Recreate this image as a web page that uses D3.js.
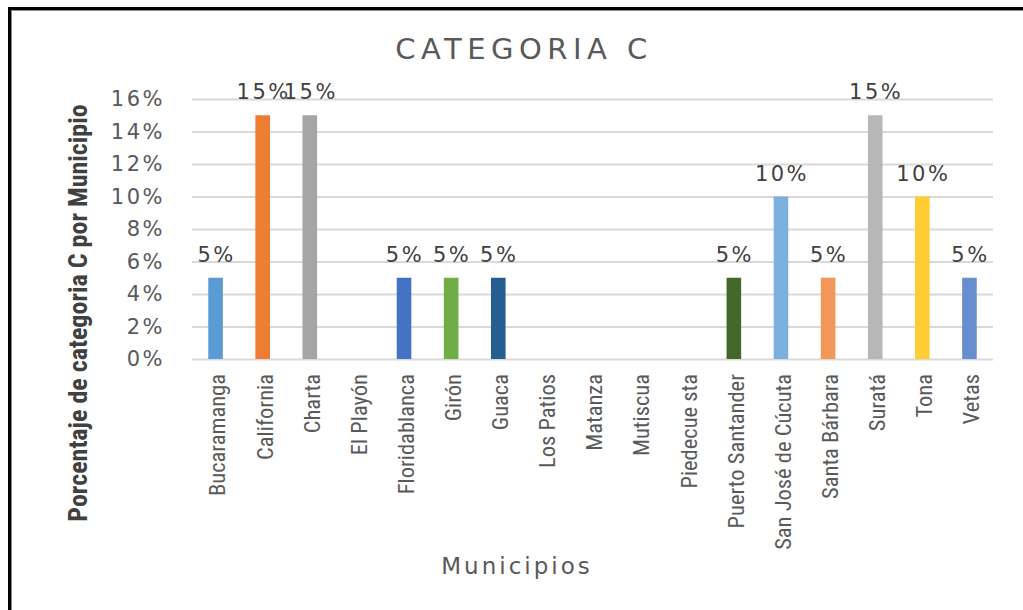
<!DOCTYPE html>
<html>
<head>
<meta charset="utf-8">
<script src="https://cdn.jsdelivr.net/npm/d3@7"></script>
<style>
  body { margin: 0; background: #fff; }
  svg { display: block; }
</style>
</head>
<body>
<div id="chart"></div>
<script>
// Chart data
const municipios = ["Bucaramanga", "California", "Charta", "El Playón", "Floridablanca", "Girón", "Guaca",
  "Los Patios", "Matanza", "Mutiscua", "Piedecue sta", "Puerto Santander", "San José de Cúcuta",
  "Santa Bárbara", "Suratá", "Tona", "Vetas"];
const porcentajes = [0.05, 0.15, 0.15, 0, 0.05, 0.05, 0.05, 0, 0, 0, 0, 0.05, 0.10, 0.05, 0.15, 0.10, 0.05];
const barColors = ["#5b9bd5", "#ed7d31", "#a5a5a5", "#ffc000", "#4472c4", "#70ad47", "#255e91",
  "#9e480e", "#636363", "#997300", "#264478", "#43682b", "#7cafdd", "#f1975a", "#b7b7b7", "#ffcd33", "#698ed0"];
const yTicks = [0, 0.02, 0.04, 0.06, 0.08, 0.10, 0.12, 0.14, 0.16];

const W = 1023, H = 610;
const plotLeft = 192, plotRight = 993, plotTop = 99, plotBottom = 359;

const svg = d3.select("#chart").append("svg")
  .attr("width", W)
  .attr("height", H);

// frame (only top and left edges fall inside the picture)
svg.append("rect")
  .attr("x", 9.5).attr("y", 8.5)
  .attr("width", 1200).attr("height", 800)
  .attr("fill", "none").attr("stroke", "#000").attr("stroke-width", 3);
svg.append("rect")
  .attr("x", 11.5).attr("y", 10.5)
  .attr("width", 1200).attr("height", 800)
  .attr("fill", "none").attr("stroke", "#8c8c8c").attr("stroke-width", 1);

const x = d3.scaleBand()
  .domain(municipios)
  .range([plotLeft, plotRight])
  .paddingInner(0.69)
  .paddingOuter(0.345);

const y = d3.scaleLinear()
  .domain([0, 0.16])
  .range([plotBottom, plotTop]);

// y axis with gridlines
const yAxis = svg.append("g")
  .attr("transform", "translate(" + plotLeft + ",0)")
  .call(d3.axisLeft(y).tickValues(yTicks).tickSize(-(plotRight - plotLeft)).tickFormat(d3.format(".0%")));
yAxis.select(".domain").remove();
yAxis.selectAll("line").attr("stroke", "#d9d9d9").attr("stroke-width", 2);
yAxis.selectAll("text")
  .attr("x", -27)
  .attr("fill", "#595959")
  .style("font-family", "DejaVu Sans, sans-serif")
  .style("font-size", "21px")
  .style("letter-spacing", "2.5px");

// bars
svg.append("g")
  .selectAll("rect")
  .data(municipios)
  .enter()
  .append("rect")
  .attr("x", d => x(d))
  .attr("y", (d, i) => y(porcentajes[i]))
  .attr("width", x.bandwidth())
  .attr("height", (d, i) => plotBottom - y(porcentajes[i]))
  .attr("fill", (d, i) => barColors[i]);

// value labels
svg.append("g")
  .selectAll("text")
  .data(municipios.filter((d, i) => porcentajes[i] > 0))
  .enter()
  .append("text")
  .attr("x", d => x(d) + x.bandwidth() / 2 + 1)
  .attr("y", d => y(porcentajes[municipios.indexOf(d)]) - 16)
  .attr("text-anchor", "middle")
  .attr("fill", "#404040")
  .style("font-family", "DejaVu Sans, sans-serif")
  .style("font-size", "21px")
  .style("letter-spacing", "2.5px")
  .text(d => d3.format(".0%")(porcentajes[municipios.indexOf(d)]));

// x axis labels
const xAxis = svg.append("g")
  .attr("transform", "translate(0," + plotBottom + ")")
  .call(d3.axisBottom(x).tickSize(0));
xAxis.select(".domain").remove();
xAxis.selectAll("text")
  .attr("transform", "rotate(-90)")
  .attr("text-anchor", "end")
  .attr("x", -15)
  .attr("y", 2)
  .attr("dy", "0.35em")
  .attr("fill", "#595959")
  .style("font-family", "'Liberation Sans Narrow', 'Roboto Condensed', sans-serif")
  .style("font-size", "22.5px");

// titles
svg.append("text")
  .attr("x", 524).attr("y", 59)
  .attr("text-anchor", "middle")
  .attr("fill", "#595959")
  .style("font-family", "DejaVu Sans, sans-serif")
  .style("font-size", "29px")
  .style("letter-spacing", "5.5px")
  .text("CATEGORIA C");

svg.append("text")
  .attr("x", 517).attr("y", 574)
  .attr("text-anchor", "middle")
  .attr("fill", "#595959")
  .style("font-family", "DejaVu Sans, sans-serif")
  .style("font-size", "23px")
  .style("letter-spacing", "3px")
  .text("Municipios");

svg.append("text")
  .attr("transform", "translate(87,313) rotate(-90)")
  .attr("text-anchor", "middle")
  .attr("fill", "#404040")
  .style("font-family", "'Liberation Sans Narrow', 'Roboto Condensed', sans-serif")
  .style("font-weight", "bold")
  .style("font-size", "26px")
  .text("Porcentaje de categoria C por Municipio");
</script>
</body>
</html>
